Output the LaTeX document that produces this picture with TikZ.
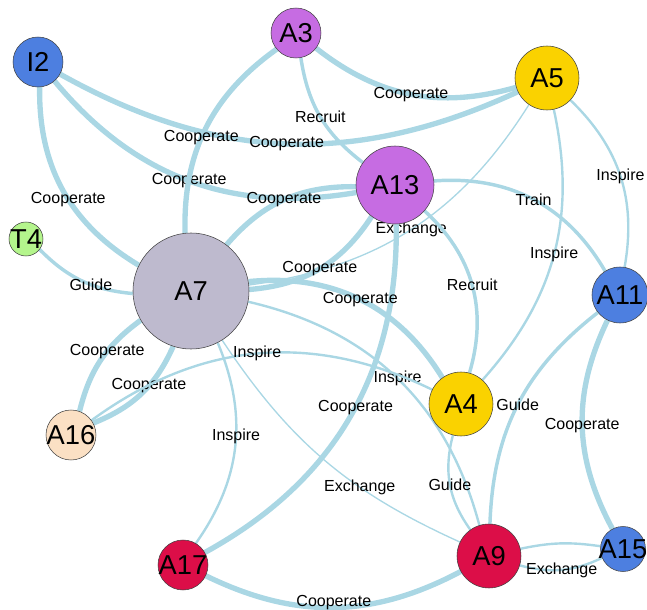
\documentclass[tikz,border=0pt]{standalone}
\usepackage{fontspec}
\setmainfont{Liberation Sans}
\pgfdeclarelayer{links}
\pgfsetlayers{links,main}
\definecolor{linkblue}{RGB}{170,215,228}
\definecolor{agentblue}{RGB}{77,127,224}
\definecolor{agentpurple}{RGB}{198,108,226}
\definecolor{agentgold}{RGB}{250,210,0}
\definecolor{agentgreen}{RGB}{180,245,140}
\definecolor{agentgray}{RGB}{190,186,206}
\definecolor{agentpeach}{RGB}{251,224,196}
\definecolor{agentred}{RGB}{220,14,72}
\begin{document}
\begin{tikzpicture}[x=0.75pt,y=-0.75pt,
    agent/.style={circle,draw=black!75,line width=0.4pt,inner sep=0pt,minimum size=#1},
    every label/.style={font=\fontsize{20.5}{24}\selectfont,inner sep=0pt},
    lbl/.style={font=\fontsize{12}{14}\selectfont,inner sep=1pt},
    widelink/.style={draw=linkblue,line width=4pt},
    midlink/.style={draw=linkblue,line width=2.6pt},
    thinlink/.style={draw=linkblue,line width=1.8pt},
    hairlink/.style={draw=linkblue,line width=1pt}]
    \useasboundingbox (0,0) rectangle (647,610);

    % agents
    \node[agent=37.5pt,fill=agentblue,label=center:I2] (i2) at (38,62) {};
    \node[agent=37.5pt,fill=agentpurple,label=center:A3] (a3) at (296,33) {};
    \node[agent=48pt,fill=agentgold,label=center:A5] (a5) at (547,78) {};
    \node[agent=58.5pt,fill=agentpurple,label=center:A13] (a13) at (395,185) {};
    \node[agent=25.5pt,fill=agentgreen,label=center:T4] (t4) at (26,239) {};
    \node[agent=87pt,fill=agentgray,label=center:A7] (a7) at (191,291) {};
    \node[agent=42pt,fill=agentblue,label=center:A11] (a11) at (620,295) {};
    \node[agent=48pt,fill=agentgold,label=center:A4] (a4) at (461,404) {};
    \node[agent=37.5pt,fill=agentpeach,label=center:A16] (a16) at (71,435) {};
    \node[agent=37.5pt,fill=agentred,label=center:A17] (a17) at (183,565) {};
    \node[agent=48pt,fill=agentred,label=center:A9] (a9) at (489,556) {};
    \node[agent=33.75pt,fill=agentblue,label=center:A15] (a15) at (623,549) {};

    % links
    \begin{pgfonlayer}{links}
    \draw[widelink] (i2) to[bend right=27] node[lbl]{Cooperate} (a5);
    \draw[widelink] (i2) to[bend right=30] node[lbl]{Cooperate} (a13);
    \draw[widelink] (i2) to[bend right=30] node[lbl,pos=0.55]{Cooperate} (a7);
    \draw[midlink] (t4) to[bend right=20] node[lbl,pos=0.6]{Guide} (a7);
    \draw[widelink] (a3) to[bend right=28] node[lbl,pos=0.55]{Cooperate} (a7);
    \draw[midlink] (a3) to[bend right=22] node[lbl]{Recruit} (a13);
    \draw[widelink] (a3) to[bend right=27] node[lbl]{Cooperate} (a5);
    \draw[thinlink] (a5) to[bend left=28] node[lbl]{Inspire} (a11);
    \draw[thinlink] (a5) to[bend left=27] node[lbl]{Inspire} (a4);
    \draw[hairlink] (a5) to[bend left=25] node[lbl]{Exchange} (a7);
    \draw[midlink] (a13) to[bend left=32] node[lbl]{Train} (a11);
    \draw[midlink] (a13) to[bend left=32] node[lbl]{Recruit} (a4);
    \draw[widelink] (a7) to[bend left=25] node[lbl]{Cooperate} (a13);
    \draw[widelink] (a7) to[bend right=26] node[lbl]{Cooperate} (a13);
    \draw[widelink] (a13) to[bend left=31] node[lbl,pos=0.47]{Cooperate} (a17);
    \draw[widelink] (a7) to[bend left=32] node[lbl]{Cooperate} (a4);
    \draw[hairlink] (a7) to[bend right=16] node[lbl,pos=0.65]{Exchange} (a9);
    \draw[thinlink] (a7) to[bend left=31] node[lbl]{Inspire} (a9);
    \draw[thinlink] (a7) to[bend left=29] node[lbl,pos=0.45]{Inspire} (a17);
    \draw[widelink] (a16) to[bend left=20] node[lbl,pos=0.6]{Cooperate} (a7);
    \draw[widelink] (a16) to[bend right=22] node[lbl,pos=0.6]{Cooperate} (a7);
    \draw[thinlink] (a16) to[bend left=31] node[lbl]{Inspire} (a4);
    \draw[thinlink] (a4) to[bend right=25] node[lbl]{Guide} (a9);
    \draw[midlink] (a11) to[bend right=25] node[lbl]{Guide} (a9);
    \draw[widelink] (a11) to[bend right=27] node[lbl]{Cooperate} (a15);
    \draw[thinlink] (a9) to[bend left=10] (a15);
    \draw[thinlink] (a9) to[bend right=20] node[lbl]{Exchange} (a15);
    \draw[widelink] (a17) to[bend right=27] node[lbl,yshift=4pt]{Cooperate} (a9);
    \end{pgfonlayer}
\end{tikzpicture}
\end{document}
